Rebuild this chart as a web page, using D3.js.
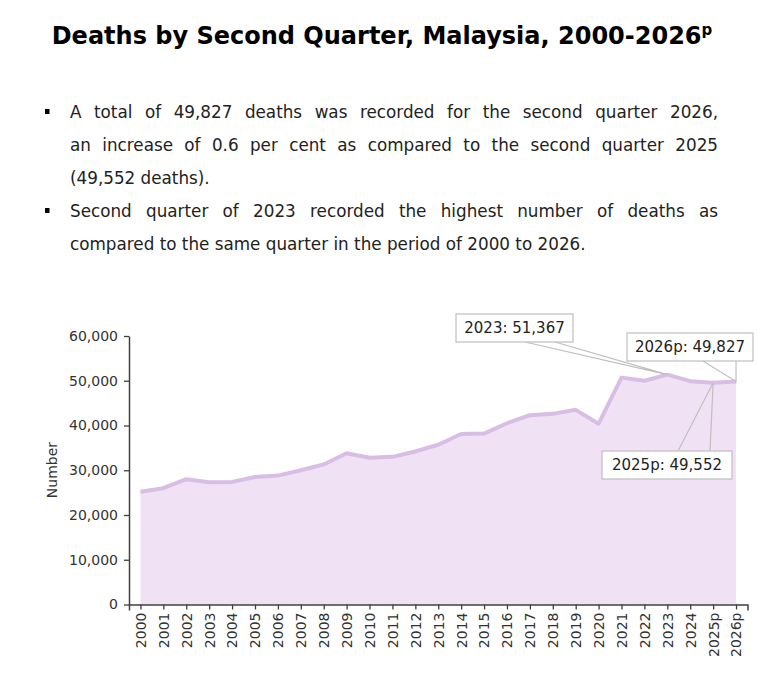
<!DOCTYPE html>
<html>
<head>
<meta charset="utf-8">
<script src="https://cdn.jsdelivr.net/npm/d3@7"></script>
<style>
  body { margin: 0; background: #fff; }
  svg { display: block; }
</style>
</head>
<body>
<svg width="757" height="674"></svg>
<script>
  const years = ["2000", "2001", "2002", "2003", "2004", "2005", "2006", "2007", "2008", "2009",
    "2010", "2011", "2012", "2013", "2014", "2015", "2016", "2017", "2018", "2019",
    "2020", "2021", "2022", "2023", "2024", "2025p", "2026p"];
  const deaths = [25200, 26000, 28000, 27300, 27400, 28500, 28800, 30000, 31300, 33800,
    32800, 33000, 34200, 35700, 38100, 38200, 40500, 42300, 42600, 43500,
    40400, 50700, 50000, 51367, 49900, 49552, 49827];
  const yTicks = [0, 10000, 20000, 30000, 40000, 50000, 60000];
  const calloutYears = ["2023", "2026p", "2025p"];

  const bullets = [
    ["A total of 49,827 deaths was recorded for the second quarter 2026,",
     "an increase of 0.6 per cent as compared to the second quarter 2025",
     "(49,552 deaths)."],
    ["Second quarter of 2023 recorded the highest number of deaths as",
     "compared to the same quarter in the period of 2000 to 2026."]
  ];

  const font = "'DejaVu Sans', 'Noto Sans', sans-serif";
  const fmt = d3.format(",");
  const data = years.map((y, i) => ({ year: y, value: deaths[i] }));

  const svg = d3.select("svg");

  // title
  const title = svg.append("text")
    .attr("x", 382)
    .attr("y", 44)
    .attr("text-anchor", "middle")
    .attr("font-family", font)
    .attr("font-weight", "bold")
    .attr("font-size", 24)
    .attr("fill", "#000")
    .text("Deaths by Second Quarter, Malaysia, 2000-2026");
  title.append("tspan")
    .attr("font-size", 15)
    .attr("dy", -9)
    .text("p");

  // bullet text, justified by hand
  const textG = svg.append("g")
    .attr("font-family", font)
    .attr("font-size", 16.8)
    .attr("fill", "#222");
  const left = 70, right = 718;
  const measure = textG.append("text").attr("visibility", "hidden");
  const wordWidth = w => measure.text(w).node().getComputedTextLength();
  const space = wordWidth("a b") - wordWidth("ab");

  let lineY = 118;
  bullets.forEach(para => {
    textG.append("rect")
      .attr("x", 45)
      .attr("y", lineY - 9)
      .attr("width", 4.5)
      .attr("height", 5)
      .attr("fill", "#000");
    para.forEach((line, li) => {
      const words = line.split(" ");
      const widths = words.map(wordWidth);
      const total = d3.sum(widths);
      const last = li === para.length - 1;
      const gap = last ? space : (right - left - total) / (words.length - 1);
      const t = textG.append("text").attr("y", lineY);
      let x = left;
      words.forEach((w, k) => {
        t.append("tspan").attr("x", x).text(w);
        x += widths[k] + gap;
      });
      lineY += 33;
    });
  });
  measure.remove();

  // chart
  const x = d3.scalePoint()
    .domain(years)
    .range([129, 747.5])
    .padding(0.5);

  const y = d3.scaleLinear()
    .domain([0, 60000])
    .range([604.5, 336]);

  const area = d3.area()
    .x(d => x(d.year))
    .y0(y(0))
    .y1(d => y(d.value));

  const line = d3.line()
    .x(d => x(d.year))
    .y(d => y(d.value));

  svg.append("path")
    .datum(data)
    .attr("d", area)
    .attr("fill", "#f0e2f4");

  svg.append("path")
    .datum(data)
    .attr("d", line)
    .attr("fill", "none")
    .attr("stroke", "#d8bde5")
    .attr("stroke-width", 4)
    .attr("stroke-linejoin", "round");

  const yAxis = svg.append("g")
    .attr("transform", "translate(129,0)")
    .call(d3.axisLeft(y).tickValues(yTicks).tickSize(5).tickSizeOuter(0).tickFormat(fmt));

  const xAxis = svg.append("g")
    .attr("transform", `translate(0,${y(0)})`)
    .call(d3.axisBottom(x).tickSize(5).tickSizeOuter(6));

  [yAxis, xAxis].forEach(a => {
    a.select(".domain").attr("stroke", "#404040").attr("stroke-width", 1.5);
    a.selectAll(".tick line").attr("stroke", "#404040").attr("stroke-width", 1.3);
    a.selectAll("text")
      .attr("font-family", font)
      .attr("font-size", 14)
      .attr("fill", "#333");
  });

  yAxis.selectAll(".tick text").attr("x", -11);

  xAxis.selectAll(".tick text")
    .attr("transform", "rotate(-90)")
    .attr("text-anchor", "end")
    .attr("x", -8)
    .attr("y", 0)
    .attr("dy", "0.35em");

  svg.append("text")
    .attr("transform", "translate(57,470) rotate(-90)")
    .attr("text-anchor", "middle")
    .attr("font-family", font)
    .attr("font-size", 14)
    .attr("fill", "#333")
    .text("Number");

  // callout boxes with leader wedges
  const boxes = {
    "2023": { x: 456, y: 314, w: 117, h: 28, a: 525, b: 555, side: "bottom" },
    "2026p": { x: 627, y: 333, w: 126, h: 28, a: 703, b: 736, side: "bottom" },
    "2025p": { x: 602, y: 451, w: 130, h: 28, a: 678, b: 710, side: "top" }
  };

  const callG = svg.append("g");
  calloutYears.forEach(yr => {
    const d = data.find(e => e.year === yr);
    const bx = boxes[yr];
    const px = x(d.year), py = y(d.value);
    const ey = bx.side === "bottom" ? bx.y + bx.h : bx.y;
    callG.append("path")
      .attr("d", `M${bx.a},${ey}L${px},${py}L${bx.b},${ey}`)
      .attr("fill", "none")
      .attr("stroke", "#bfbfbf")
      .attr("stroke-width", 1.2);
    callG.append("rect")
      .attr("x", bx.x)
      .attr("y", bx.y)
      .attr("width", bx.w)
      .attr("height", bx.h)
      .attr("fill", "#fff")
      .attr("stroke", "#bfbfbf")
      .attr("stroke-width", 1.2);
    callG.append("text")
      .attr("x", bx.x + bx.w / 2)
      .attr("y", bx.y + bx.h / 2)
      .attr("dy", "0.36em")
      .attr("text-anchor", "middle")
      .attr("font-family", font)
      .attr("font-size", 15)
      .attr("fill", "#222")
      .text(`${yr}: ${fmt(d.value)}`);
  });
</script>
</body>
</html>
